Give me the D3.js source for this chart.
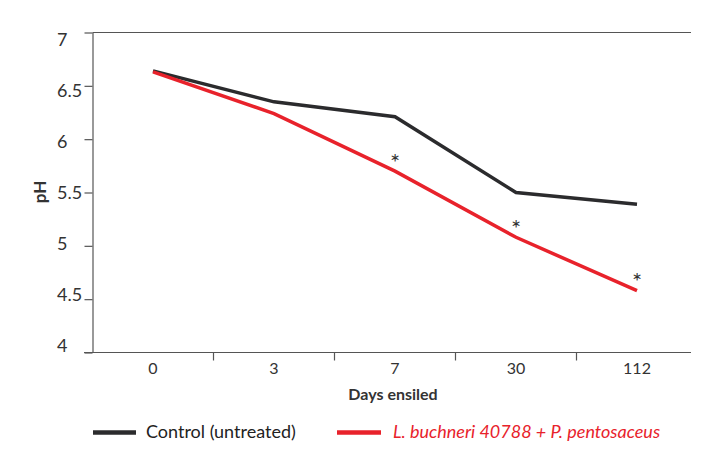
<!DOCTYPE html>
<html>
<head>
<meta charset="utf-8">
<script src="https://cdnjs.cloudflare.com/ajax/libs/d3/7.8.5/d3.min.js"></script>
<style>
  body { margin: 0; background: #fff; }
  svg text { font-family: Lato, "Noto Sans", sans-serif; }
</style>
</head>
<body>
<div id="chart"></div>
<script>
// data
const days = ["0", "3", "7", "30", "112"];
const controlPH = [6.64, 6.35, 6.21, 5.50, 5.39];
const treatedPH = [6.63, 6.24, 5.70, 5.08, 4.58];
const significant = [false, false, true, true, true];
const yTicks = [4, 4.5, 5, 5.5, 6, 6.5, 7];
const seriesNames = ["Control (untreated)", "L. buchneri 40788 + P. pentosaceus"];

const w = 708;
const h = 457;
const plotLeft = 92.5;
const plotRight = 691;
const plotTop = 32.5;
const plotBottom = 352.5;

const black = "#2b2b2d";
const red = "#e8222b";
const axisColor = "#555";

const svg = d3.select("#chart")
    .append("svg")
    .attr("width", w)
    .attr("height", h)

const xScale = d3.scaleBand()
    .domain(days)
    .range([plotLeft, plotLeft + 5 * 121])

const yScale = d3.scaleLinear()
    .domain([4, 7])
    .range([plotBottom, plotTop])

// tick labels sit a little tighter than the ticks themselves
const yLabelScale = d3.scaleLinear()
    .domain([4, 7])
    .range([346, 40])

// top frame line
svg.append("line")
    .attr("x1", plotLeft).attr("x2", plotRight)
    .attr("y1", plotTop).attr("y2", plotTop)
    .attr("stroke", axisColor)
    .attr("stroke-width", 1.2)

// y axis
const yAxis = d3.axisLeft(yScale)
    .tickValues(yTicks)
    .tickSize(8)
    .tickSizeOuter(0)
    .tickFormat("")

const gy = svg.append("g")
    .attr("transform", `translate(${plotLeft}, 0)`)
    .call(yAxis)
gy.selectAll("path, line").attr("stroke", axisColor).attr("stroke-width", 1.2)

svg.selectAll(".ylab")
    .data(yTicks)
    .enter()
    .append("text")
    .attr("class", "ylab")
    .attr("x", 57)
    .attr("y", (d) => yLabelScale(d))
    .attr("dy", "0.35em")
    .attr("font-size", 18)
    .attr("fill", "#333")
    .text((d) => d)

svg.append("text")
    .attr("transform", "translate(46, 192) rotate(-90)")
    .attr("text-anchor", "middle")
    .attr("font-size", 17)
    .attr("font-weight", "bold")
    .attr("fill", "#333")
    .text("pH")

// x axis: line, ticks between the groups, labels in the middle
svg.append("line")
    .attr("x1", 84).attr("x2", plotRight)
    .attr("y1", plotBottom).attr("y2", plotBottom)
    .attr("stroke", axisColor)
    .attr("stroke-width", 1.2)

svg.selectAll(".xtick")
    .data(days.slice(1))
    .enter()
    .append("line")
    .attr("class", "xtick")
    .attr("x1", (d) => xScale(d))
    .attr("x2", (d) => xScale(d))
    .attr("y1", plotBottom)
    .attr("y2", plotBottom + 8)
    .attr("stroke", axisColor)
    .attr("stroke-width", 1.2)

const xAxis = d3.axisBottom(xScale)
    .tickSize(0)
    .tickPadding(10)

const gx = svg.append("g")
    .attr("transform", `translate(0, ${plotBottom})`)
    .call(xAxis)
gx.select(".domain").remove()
gx.selectAll("text")
    .attr("font-size", 16)
    .attr("fill", "#333")
    .style("font-family", "Lato, 'Noto Sans', sans-serif")

svg.append("text")
    .attr("x", 393)
    .attr("y", 400)
    .attr("text-anchor", "middle")
    .attr("font-size", 16)
    .attr("font-weight", "bold")
    .attr("fill", "#333")
    .text("Days ensiled")

// lines
const line = d3.line()
    .x((d, i) => xScale(days[i]) + xScale.bandwidth() / 2)
    .y((d) => yScale(d))

svg.append("path")
    .datum(controlPH)
    .attr("d", line)
    .attr("fill", "none")
    .attr("stroke", black)
    .attr("stroke-width", 3.5)

svg.append("path")
    .datum(treatedPH)
    .attr("d", line)
    .attr("fill", "none")
    .attr("stroke", red)
    .attr("stroke-width", 3.5)

// significance stars above the treated line
svg.selectAll(".star")
    .data(treatedPH.map((v, i) => ({ v: v, i: i })).filter((d) => significant[d.i]))
    .enter()
    .append("text")
    .attr("class", "star")
    .attr("x", (d) => xScale(days[d.i]) + xScale.bandwidth() / 2)
    .attr("y", (d) => yScale(d.v) - 15)
    .attr("dy", "0.6em")
    .attr("text-anchor", "middle")
    .attr("font-size", 24)
    .attr("fill", "#333")
    .text("*")

// legend
const legend = svg.append("g")

legend.append("line")
    .attr("x1", 93).attr("x2", 136)
    .attr("y1", 432.5).attr("y2", 432.5)
    .attr("stroke", black)
    .attr("stroke-width", 4.5)
legend.append("text")
    .attr("x", 146)
    .attr("y", 438)
    .attr("font-size", 18)
    .attr("fill", "#222")
    .text(seriesNames[0])

legend.append("line")
    .attr("x1", 337).attr("x2", 381)
    .attr("y1", 432.5).attr("y2", 432.5)
    .attr("stroke", red)
    .attr("stroke-width", 4.5)
legend.append("text")
    .attr("x", 393)
    .attr("y", 438)
    .attr("font-size", 18)
    .attr("font-style", "italic")
    .attr("fill", red)
    .text(seriesNames[1])
</script>
</body>
</html>
